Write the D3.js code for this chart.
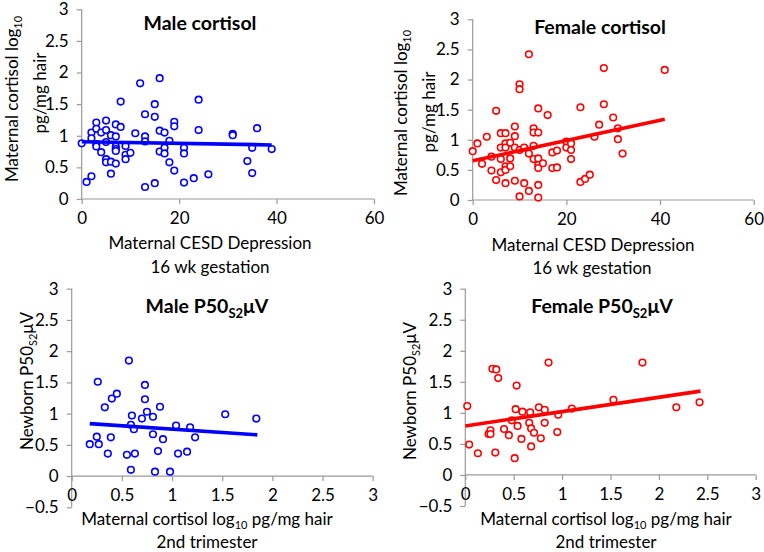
<!DOCTYPE html>
<html>
<head>
<meta charset="utf-8">
<script src="https://cdn.jsdelivr.net/npm/d3@7"></script>
<style>
  body { margin: 0; background: #fff; }
  svg text { font-family: Lato, "Open Sans", sans-serif; fill: #000; }
</style>
</head>
<body>
<div id="chart"></div>
<script>

// --- data ---
var maleCortX = [0,1,2,2,2,3,3,3,3,4,4,5,5,5,5,5,6,6,6,7,7,7,7,7,7,8,8,9,9,9,10,11,12,13,13,13,13,15,15,15,16,16,16,17,17,17,18,18,19,19,19,21,21,21,23,24,24,26,31,31,34,35,35,36,39];
var maleCortY = [0.88,0.27,1.05,0.36,0.96,1.21,1.11,0.87,0.83,1.05,0.74,1.24,1.09,0.90,0.63,0.58,1.01,0.59,0.40,1.18,0.99,0.83,0.79,0.76,0.56,1.54,1.14,0.84,0.70,0.63,0.73,1.04,1.83,1.34,0.99,0.91,0.19,1.50,1.30,0.25,1.91,1.08,0.75,1.05,0.81,0.72,0.92,0.58,1.22,1.15,0.45,0.81,0.72,0.26,0.33,1.57,1.09,0.39,1.03,1.01,0.60,0.81,0.41,1.12,0.79];
var maleCortTrend = [[0, 0.905], [39, 0.855]];

var femaleCortX = [0,1,2,3,4,4,5,5,6,6,6,6,7,7,7,7,7,7,8,8,8,9,9,9,9,10,10,10,10,11,11,12,12,12,13,13,13,13,14,14,14,14,14,14,14,15,16,17,17,18,18,20,20,21,21,21,23,23,24,25,26,27,28,28,30,31,31,32,41];
var femaleCortY = [0.81,0.94,0.60,1.05,0.72,0.49,1.48,0.33,1.11,0.87,0.68,0.46,1.11,0.94,0.87,0.56,0.50,0.28,0.95,0.69,0.56,1.22,1.06,0.87,0.32,1.92,1.84,0.83,0.06,0.87,0.28,2.42,0.77,0.15,1.19,1.12,0.90,0.68,1.52,1.12,0.69,0.58,0.53,0.25,0.04,0.61,1.41,0.79,0.53,0.82,0.54,0.97,0.87,0.94,0.83,0.68,1.54,0.30,0.35,0.42,1.05,1.25,2.19,1.59,1.37,1.19,1.01,0.77,2.16];
var femaleCortTrend = [[0, 0.65], [41, 1.34]];

var maleP50X = [0.18,0.25,0.26,0.27,0.33,0.36,0.39,0.40,0.45,0.55,0.57,0.59,0.59,0.60,0.62,0.63,0.70,0.73,0.73,0.75,0.81,0.81,0.83,0.86,0.88,0.91,0.98,1.04,1.06,1.15,1.18,1.23,1.53,1.84];
var maleP50Y = [0.51,0.63,1.51,0.51,1.10,0.36,0.62,1.24,1.32,0.34,1.85,0.82,0.10,0.97,0.75,0.36,0.92,1.23,1.46,1.03,0.95,0.67,0.07,0.40,1.11,0.59,0.07,0.81,0.36,0.39,0.78,0.62,0.99,0.92];
var maleP50Trend = [[0.18, 0.84], [1.85, 0.66]];

var femaleP50X = [0.02,0.04,0.13,0.24,0.26,0.26,0.28,0.32,0.31,0.34,0.40,0.45,0.48,0.51,0.52,0.53,0.54,0.58,0.59,0.66,0.67,0.68,0.68,0.71,0.76,0.78,0.82,0.82,0.86,0.95,0.96,1.10,1.53,1.83,2.18,2.42];
var femaleP50Y = [1.11,0.49,0.35,0.66,0.72,0.66,1.71,1.70,0.36,1.56,0.74,0.64,0.88,0.27,1.06,1.44,0.79,0.58,1.02,0.84,1.01,0.46,0.75,0.68,1.09,0.59,1.05,0.84,1.81,0.69,0.97,1.07,1.21,1.81,1.09,1.17];
var femaleP50Trend = [[0, 0.79], [2.43, 1.35]];

// tick values
var cesdTicks = [0, 20, 40, 60];
var cortTicks = [0, 0.5, 1, 1.5, 2, 2.5, 3];
var p50XTicks = [0, 0.5, 1, 1.5, 2, 2.5, 3];
var p50YTicks = [-0.5, 0, 0.5, 1, 1.5, 2, 2.5, 3];

// text pieces ({t, sub})
var cortYLabel1 = [{t: "Maternal cortisol log"}, {t: "10", sub: true}];
var cortYLabel2 = [{t: "pg/mg hair"}];
var cesdXLabel1 = [{t: "Maternal CESD Depression"}];
var cesdXLabel2 = [{t: "16 wk gestation"}];
var p50YLabel = [{t: "Newborn P50"}, {t: "S2", sub: true}, {t: "\u03bcV"}];
var p50XLabel1 = [{t: "Maternal cortisol log"}, {t: "10", sub: true}, {t: " pg/mg hair"}];
var p50XLabel2 = [{t: "2nd trimester"}];

var BLUE = "#0000ff", RED = "#ff0000", AXIS = "#9a9a9a";

var panels = [
  {xs: maleCortX, ys: maleCortY, trend: maleCortTrend, color: BLUE,
   title: [{t: "Male cortisol"}], titlePos: [200, 23],
   xDom: [0, 60], xRange: [81.7, 374], yDom: [0, 3], yRange: [199, 9.3],
   xTicks: cesdTicks, yTicks: cortTicks,
   yLab: [{parts: cortYLabel1, x: 12.5, y: 99}, {parts: cortYLabel2, x: 40, y: 93}],
   xLab: [{parts: cesdXLabel1, x: 210, y: 243}, {parts: cesdXLabel2, x: 210, y: 267}]},
  {xs: femaleCortX, ys: femaleCortY, trend: femaleCortTrend, color: RED,
   title: [{t: "Female cortisol"}], titlePos: [600, 27],
   xDom: [0, 60], xRange: [472.7, 753.7], yDom: [0, 3], yRange: [200, 19.3],
   xTicks: cesdTicks, yTicks: cortTicks,
   yLab: [{parts: cortYLabel1, x: 401, y: 113}, {parts: cortYLabel2, x: 429, y: 112}],
   xLab: [{parts: cesdXLabel1, x: 593, y: 245}, {parts: cesdXLabel2, x: 592, y: 268}]},
  {xs: maleP50X, ys: maleP50Y, trend: maleP50Trend, color: BLUE,
   title: [{t: "Male P50"}, {t: "S2", sub: true}, {t: "\u03bcV"}], titlePos: [207, 306],
   xDom: [0, 3], xRange: [71.7, 372.7], yDom: [-0.5, 3], yRange: [507.3, 288.7],
   xTicks: p50XTicks, yTicks: p50YTicks,
   yLab: [{parts: p50YLabel, x: 27, y: 381}],
   xLab: [{parts: p50XLabel1, x: 207, y: 519}, {parts: p50XLabel2, x: 207, y: 542}]},
  {xs: femaleP50X, ys: femaleP50Y, trend: femaleP50Trend, color: RED,
   title: [{t: "Female P50"}, {t: "S2", sub: true}, {t: "\u03bcV"}], titlePos: [602, 306],
   xDom: [0, 3], xRange: [465.3, 755.7], yDom: [-0.5, 3], yRange: [506, 288.7],
   xTicks: p50XTicks, yTicks: p50YTicks,
   yLab: [{parts: p50YLabel, x: 410, y: 391}],
   xLab: [{parts: p50XLabel1, x: 606, y: 519}, {parts: p50XLabel2, x: 606, y: 542}]}
];

var svg = d3.select("#chart").append("svg")
    .attr("width", 764)
    .attr("height", 552);

// write text with optional subscripts, centred on (x,y)
function addText(g, parts, x, y, size, opts) {
  opts = opts || {};
  var t = g.append("text")
      .attr("text-anchor", "middle")
      .attr("font-size", size)
      .attr("font-weight", opts.bold ? "bold" : "normal")
      .attr("dy", "0.35em");
  if (opts.rotate) t.attr("transform", "translate(" + x + "," + y + ") rotate(-90)");
  else t.attr("x", x).attr("y", y);
  var shift = Math.round(size * 0.25);
  var down = false;
  parts.forEach(function(p) {
    var s = t.append("tspan").text(p.t);
    if (p.sub) {
      s.attr("font-size", Math.round(size * 0.65)).attr("dy", shift);
      down = true;
    } else if (down) {
      s.attr("dy", -shift);
      down = false;
    }
  });
  return t;
}

panels.forEach(function(p) {
  var g = svg.append("g");
  var x = d3.scaleLinear().domain(p.xDom).range(p.xRange);
  var y = d3.scaleLinear().domain(p.yDom).range(p.yRange);

  // y axis
  var yAx = g.append("g")
      .attr("transform", "translate(" + p.xRange[0] + ",0)")
      .call(d3.axisLeft(y).tickValues(p.yTicks).tickSize(5).tickPadding(8)
        .tickFormat(d3.format("")));
  // x axis sits on y = 0
  var xAx = g.append("g")
      .attr("transform", "translate(0," + y(0) + ")")
      .call(d3.axisBottom(x).tickValues(p.xTicks).tickSize(5).tickPadding(8)
        .tickFormat(d3.format("")));
  [yAx, xAx].forEach(function(a) {
    a.select(".domain").attr("stroke", AXIS).attr("stroke-width", 1.2);
    a.selectAll(".tick line").attr("stroke", AXIS).attr("stroke-width", 1.2);
    a.selectAll(".tick text").attr("font-size", 17).attr("fill", "#000")
      .attr("font-family", "Lato, sans-serif");
  });
  // plain domain lines, no end caps
  yAx.select(".domain").attr("d", "M0," + p.yRange[0] + "V" + p.yRange[1]);
  xAx.select(".domain").attr("d", "M" + p.xRange[0] + ",0H" + p.xRange[1]);

  // points
  g.selectAll("circle")
      .data(p.xs.map(function(v, i) { return [v, p.ys[i]]; }))
    .enter().append("circle")
      .attr("cx", function(d) { return x(d[0]); })
      .attr("cy", function(d) { return y(d[1]); })
      .attr("r", 3.3)
      .attr("fill", "#fff")
      .attr("stroke", p.color)
      .attr("stroke-width", 1.6);

  // trend line
  g.append("path")
      .datum(p.trend)
      .attr("fill", "none")
      .attr("stroke", p.color)
      .attr("stroke-width", 3.6)
      .attr("d", d3.line().x(function(d) { return x(d[0]); }).y(function(d) { return y(d[1]); }));

  // labels
  addText(g, p.title, p.titlePos[0], p.titlePos[1], 19.5, {bold: true});
  p.yLab.forEach(function(l) { addText(g, l.parts, l.x, l.y, 17, {rotate: true}); });
  p.xLab.forEach(function(l) { addText(g, l.parts, l.x, l.y, 17); });
});

</script>
</body>
</html>
